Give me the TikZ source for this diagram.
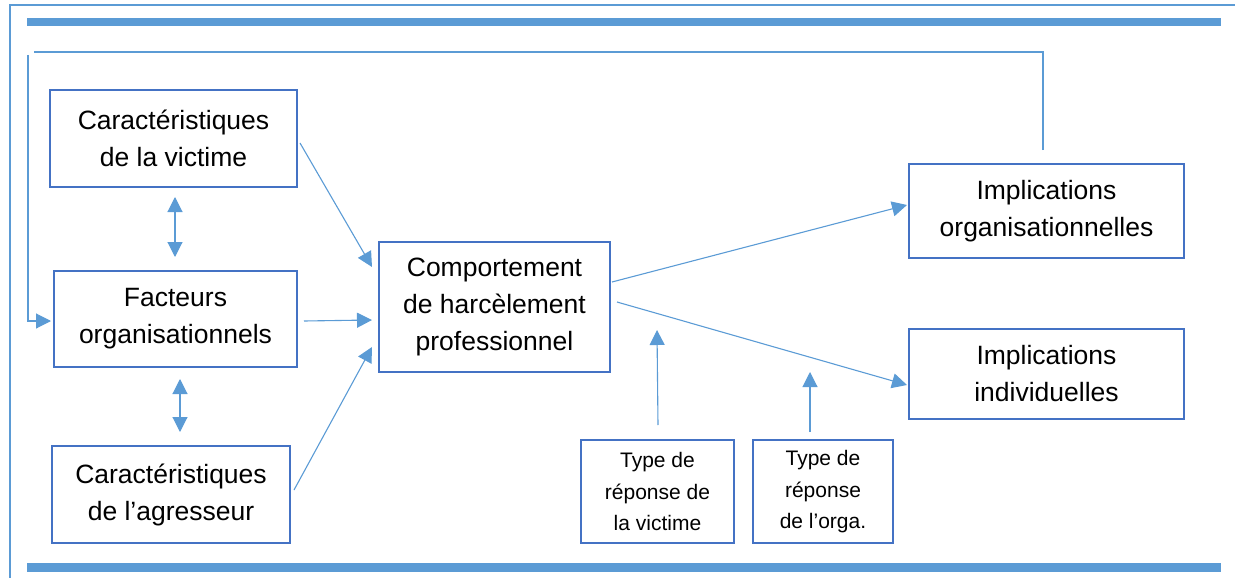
\documentclass[tikz,border=0pt]{standalone}
\usepackage{fontspec}
\setmainfont{Liberation Sans}
\usetikzlibrary{arrows.meta,calc}
\definecolor{boxblue}{HTML}{4472C4}
\definecolor{lineblue}{HTML}{5B9BD5}
\tikzset{
  box/.style={draw=boxblue, line width=2pt, fill=white, align=center, inner sep=0pt,
    font=\fontsize{26.5}{37}\selectfont},
  smallbox/.style={box, font=\fontsize{21}{30}\selectfont},
  arr/.style={draw=lineblue, line width=1.1pt, -{Triangle[length=15pt,width=15pt]}},
  darr/.style={draw=lineblue, line width=1.1pt, {Triangle[length=15pt,width=15pt]}-{Triangle[length=15pt,width=15pt]}},
  fb/.style={draw=lineblue, line width=1.1pt},
  bar/.style={fill=lineblue, draw=none},
}
\begin{document}
\begin{tikzpicture}[x=1pt,y=-1pt]
\useasboundingbox (0,0) rectangle (1235,578);
% outer frame
\draw[lineblue, line width=2pt] (10,580) -- (10,5) -- (1240,5);
% bars
\fill[bar] (27,18) rectangle (1221,26);
\fill[bar] (27,563) rectangle (1221,572);
% boxes
\node[box, minimum width=247pt, minimum height=97pt] (vic) at (173.5,138.5) {Caractéristiques\\de la victime};
\node[box, minimum width=243pt, minimum height=96pt] (fac) at (175.5,319) {Facteurs\\organisationnels};
\node[box, minimum width=238pt, minimum height=97pt] (agr) at (171,494.5) {Caractéristiques\\de l’agresseur};
\node[box, minimum width=231pt, minimum height=130pt] (comp) at (494.5,307) {Comportement\\de harcèlement\\professionnel};
\node[box, minimum width=275pt, minimum height=94pt] (io) at (1046.5,211) {Implications\\organisationnelles};
\node[box, minimum width=275pt, minimum height=90pt] (ii) at (1046.5,374) {Implications\\individuelles};
\node[smallbox, minimum width=153pt, minimum height=103pt] (tv) at (657.5,491.5) {\raisebox{-3pt}{\shortstack{Type de\\[9pt]réponse de\\[9pt]la victime}}};
\node[smallbox, minimum width=140pt, minimum height=103pt] (to) at (823,491.5) {\raisebox{-3pt}{\shortstack{Type de\\[9pt]réponse\\[9pt]de l’orga.}}};
% arrows into comportement
\draw[arr] ($(vic.east)+(2,4.5)$) -- ($(comp.west)+(-6,-40)$);
\draw[arr] ($(fac.east)+(6,2)$) -- ($(comp.west)+(-6,13)$);
\draw[arr] ($(agr.east)+(3,-4.5)$) -- ($(comp.west)+(-6,40)$);
% arrows out
\draw[arr] ($(comp.east)+(1,-25)$) -- ($(io.west)+(-1,-6)$);
\draw[arr] ($(comp.east)+(6,-5)$) -- ($(ii.west)+(-1,11)$);
% moderators
\coordinate (tvtip) at (657,330);
\coordinate (totip) at (810,372);
\draw[arr] ($(tv.north)+(0.5,-14)$) -- (tvtip);
\draw[arr] ($(to.north)+(-13,-7)$) -- (totip);
% double arrows
\draw[darr] ($(vic.south)+(1.5,9)$) -- ($(fac.north)+(-0.5,-13)$);
\draw[darr] ($(fac.south)+(4.5,11)$) -- ($(agr.north)+(9,-13)$);
% feedback loop
\coordinate (fbA) at (1043,52);
\coordinate (fbB) at (34,52);
\coordinate (fbC) at (28,55);
\coordinate (fbD) at (28,321);
\draw[fb] ($(io.north)+(-3.5,-13)$) -- (fbA) -- (fbB);
\draw[arr] (fbC) -- (fbD) -- ($(fac.west)+(-2,2)$);
\end{tikzpicture}
\end{document}
